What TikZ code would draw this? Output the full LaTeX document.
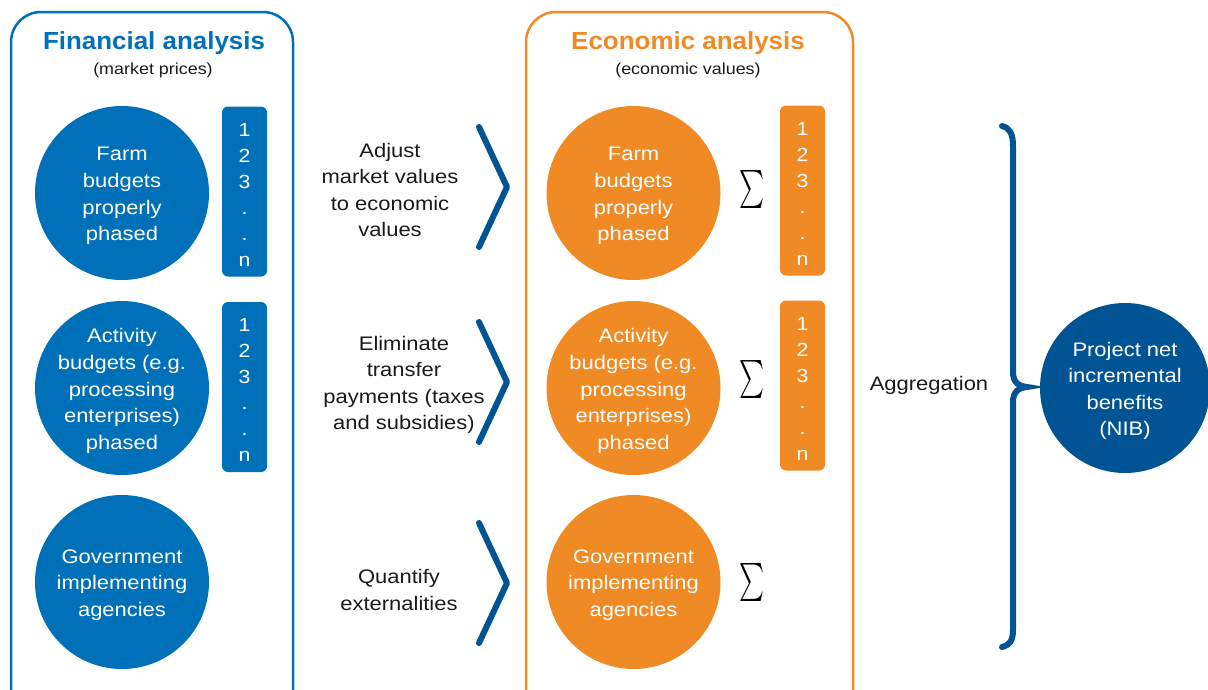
\documentclass[tikz,border=0pt]{standalone}
\usepackage{fontspec}
\setmainfont{Liberation Sans}[FakeStretch=1.12]
\newfontfamily\titlefont{Liberation Sans}[FakeStretch=1.05]
\definecolor{fblue}{HTML}{0070B9}
\definecolor{dblue}{HTML}{005494}
\definecolor{orng}{HTML}{F08A24}
\definecolor{txt}{HTML}{1A1A1A}
\begin{document}
\begin{tikzpicture}[x=1pt,y=-1pt,
  panel/.style={line width=2.5pt, rounded corners=30pt},
  disc/.style={circle, minimum size=174pt, inner sep=0pt},
  ctext/.style={inner sep=0pt, text=white, align=center,
    font=\fontsize{19.6}{26.6}\selectfont},
  numbox/.style={rounded corners=6pt, minimum width=45pt, minimum height=170pt, inner sep=0pt},
  numtext/.style={inner sep=0pt, text=white, align=center, font=\fontsize{19}{26}\selectfont},
  midtext/.style={text=txt, align=center, inner sep=0pt, font=\fontsize{19.6}{26.6}\selectfont},
  title/.style={font=\titlefont\bfseries\fontsize{24.7}{28}\selectfont},
  subtitle/.style={text=txt, font=\fontsize{16}{18}\selectfont},
  chev/.style={dblue, line width=6pt, line cap=round, line join=round},
  sigma/.style={inner sep=0pt, text=black}]
\clip (0,0) rectangle (1208,689);
\useasboundingbox (0,0) rectangle (1208,689);

% panels
\draw[panel, fblue] (11,712) -- (11,12) -- (293,12) -- (293,712);
\draw[panel, orng] (526,712) -- (526,12) -- (853,12) -- (853,712);

\node[title, text=fblue] (ftitle) at (154,43) {Financial analysis};
\node[subtitle] (fsub) at (153,70) {(market prices)};
\node[title, text=orng] (etitle) at (688,43) {Economic analysis};
\node[subtitle] (esub) at (688,70) {(economic values)};

% financial circles
\node[disc, fill=fblue] (f1) at (122,193) {};
\node[disc, fill=fblue] (f2) at (122,388) {};
\node[disc, fill=fblue] (f3) at (122,582) {};
\node[ctext] (f1t) at (122,196) {Farm\\budgets\\properly\\phased};
\node[ctext] (f2t) at (122,391) {Activity\\budgets (e.g.\\processing\\enterprises)\\phased};
\node[ctext] (f3t) at (122,585) {Government\\implementing\\agencies};
\node[numbox, fill=fblue] (fn1) at (244.5,191.5) {};
\node[numbox, fill=fblue] (fn2) at (244.5,387) {};
\node[numtext] (fn1t) at (244.5,195) {1\\2\\3\\.\\.\\n};
\node[numtext] (fn2t) at (244.5,390) {1\\2\\3\\.\\.\\n};

% middle texts
\node[midtext] (m1) at (390,190) {Adjust\\market values\\to economic\\values};
\node[midtext] (m2) at (404,385) {Eliminate\\transfer\\payments (taxes\\and subsidies)};
\node[midtext] (m3) at (399,590) {Quantify\\externalities};

% chevrons
\draw[chev] (479,127) -- (507,187) -- (479,247);
\draw[chev] (479,322) -- (507,382) -- (479,442);
\draw[chev] (479,523) -- (507,583) -- (479,643);

% economic circles
\node[disc, fill=orng] (e1) at (633.5,193) {};
\node[disc, fill=orng] (e2) at (633.5,388) {};
\node[disc, fill=orng] (e3) at (633.5,582) {};
\node[ctext] (e1t) at (633.5,196) {Farm\\budgets\\properly\\phased};
\node[ctext] (e2t) at (633.5,391) {Activity\\budgets (e.g.\\processing\\enterprises)\\phased};
\node[ctext] (e3t) at (633.5,585) {Government\\implementing\\agencies};
\node[numbox, fill=orng] (en1) at (802.5,190.5) {};
\node[numbox, fill=orng] (en2) at (802.5,385.5) {};
\node[numtext] (en1t) at (802.5,194) {1\\2\\3\\.\\.\\n};
\node[numtext] (en2t) at (802.5,389) {1\\2\\3\\.\\.\\n};

\node[sigma] (s1) at (752,189) {\resizebox*{25pt}{38pt}{$\textstyle\sum$}};
\node[sigma] (s2) at (752,379) {\resizebox*{25pt}{38pt}{$\textstyle\sum$}};
\node[sigma] (s3) at (752,582) {\resizebox*{25pt}{38pt}{$\textstyle\sum$}};

% aggregation
\node[midtext] (agg) at (929,385) {Aggregation};
\draw[dblue, line width=6pt, line cap=round]
  (1002,126) .. controls (1010,128) and (1013,134) .. (1013,146)
  -- (1013,372) .. controls (1013,382) and (1018,386) .. (1027,387)
  .. controls (1018,388) and (1013,392) .. (1013,402)
  -- (1013,630) .. controls (1013,640) and (1010,645) .. (1002,647);

\node[disc, fill=dblue, minimum size=170pt] (nib) at (1125,388) {};
\node[ctext] (nibt) at (1125,391) {Project net\\incremental\\benefits\\(NIB)};
\end{tikzpicture}
\end{document}
